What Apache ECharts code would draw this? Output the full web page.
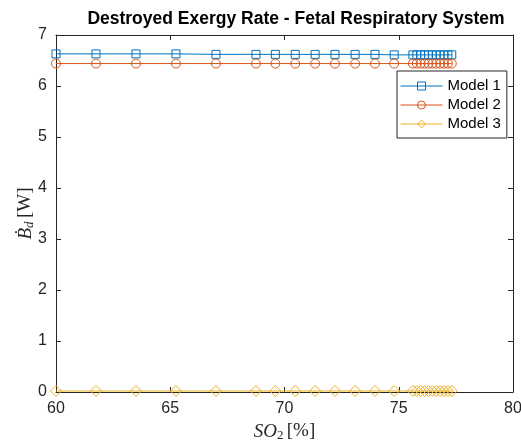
<!DOCTYPE html>
<html>
<head>
<meta charset="utf-8">
<script src="https://cdn.jsdelivr.net/npm/echarts@6/dist/echarts.min.js"></script>
<style>
  html, body { margin: 0; padding: 0; background: #fff; }
  #chart { width: 521px; height: 444px; }
</style>
</head>
<body>
<div id="chart"></div>
<script>
// SO2 saturation (%) sample points
const so2 = [60.0, 61.75, 63.5, 65.25, 67.0, 68.75, 69.6, 70.47, 71.34, 72.21, 73.09, 73.96, 74.8,
  75.62, 75.79, 75.96, 76.13, 76.3, 76.47, 76.64, 76.81, 76.98, 77.15, 77.32]
// destroyed exergy rate (W)
const model1 = [6.63, 6.63, 6.63, 6.63, 6.62, 6.62, 6.62, 6.62, 6.62, 6.62, 6.62, 6.62, 6.61,
  6.61, 6.61, 6.61, 6.61, 6.61, 6.61, 6.61, 6.61, 6.61, 6.61, 6.61]
const model2 = [6.44, 6.44, 6.44, 6.44, 6.44, 6.44, 6.44, 6.44, 6.44, 6.44, 6.44, 6.44, 6.44,
  6.44, 6.44, 6.44, 6.44, 6.44, 6.44, 6.44, 6.44, 6.44, 6.44, 6.44]
const model3 = [0.02, 0.02, 0.02, 0.02, 0.02, 0.02, 0.02, 0.02, 0.02, 0.02, 0.02, 0.02, 0.02,
  0.02, 0.02, 0.02, 0.02, 0.02, 0.02, 0.02, 0.02, 0.02, 0.02, 0.02]
const xTicks = [60, 65, 70, 75, 80]
const yTicks = [0, 1, 2, 3, 4, 5, 6, 7]

const axisColor = '#262626'
const font = 'Liberation Sans, Arial, Helvetica, sans-serif'
const serif = 'Liberation Serif, Times New Roman, serif'

function pairs(ys) {
  return so2.map((x, i) => [x, ys[i]])
}

function makeSeries(name, data, color, symbol, size) {
  return {
    name: name,
    type: 'line',
    data: pairs(data),
    symbol: symbol,
    symbolSize: size,
    showAllSymbol: true,
    lineStyle: { color: color, width: 1 },
    itemStyle: { color: 'transparent', borderColor: color, borderWidth: 1 },
    emphasis: { disabled: true },
    animation: false,
    z: 3
  }
}

const chart = echarts.init(document.getElementById('chart'))
chart.setOption({
  backgroundColor: '#fff',
  animation: false,
  title: {
    text: 'Destroyed Exergy Rate - Fetal Respiratory System',
    left: 291,
    top: 5,
    textAlign: 'center',
    textStyle: { fontFamily: font, fontSize: 17.5, fontWeight: 'bold', color: '#000' }
  },
  grid: { left: 56, right: 8, top: 35, bottom: 52, outerBoundsMode: 'none' },
  legend: {
    orient: 'vertical',
    left: 397,
    top: 71,
    padding: [7, 6, 6, 3],
    itemGap: 3,
    itemWidth: 42,
    itemHeight: 10,
    backgroundColor: '#fff',
    borderColor: axisColor,
    borderWidth: 1,
    borderRadius: 0,
    itemStyle: { borderWidth: 1 },
    lineStyle: { width: 1 },
    textStyle: { fontFamily: font, fontSize: 15, lineHeight: 16, color: '#000' },
    data: ['Model 1', 'Model 2', 'Model 3']
  },
  xAxis: [{
    type: 'value',
    min: xTicks[0],
    max: xTicks[xTicks.length - 1],
    interval: 5,
    name: '{i|SO}{s|2} {n|[%]}',
    nameLocation: 'middle',
    nameGap: 29,
    nameMoveOverlap: false,
    nameTextStyle: {
      rich: {
        i: { fontFamily: serif, fontStyle: 'italic', fontSize: 19, color: '#262626' },
        s: { fontFamily: serif, fontSize: 13, color: '#262626', verticalAlign: 'bottom', padding: [8, 0, 0, 0] },
        n: { fontFamily: serif, fontSize: 19, color: '#262626' }
      }
    },
    axisLine: { show: true, lineStyle: { color: axisColor, width: 1 } },
    axisTick: { show: true, inside: true, length: 5, lineStyle: { color: axisColor } },
    axisLabel: { fontFamily: font, fontSize: 16, color: '#262626', margin: 9 },
    splitLine: { show: false }
  }, {
    type: 'value',
    position: 'top',
    min: xTicks[0],
    max: xTicks[xTicks.length - 1],
    interval: 5,
    axisLine: { show: true, onZero: false, lineStyle: { color: axisColor, width: 1 } },
    axisTick: { show: true, inside: true, length: 5, lineStyle: { color: axisColor } },
    axisLabel: { show: false },
    splitLine: { show: false }
  }],
  yAxis: [{
    type: 'value',
    min: yTicks[0],
    max: yTicks[yTicks.length - 1],
    interval: 1,
    name: '{i|Ḃ}{s|d} {n|[W]}',
    nameLocation: 'middle',
    nameGap: 20,
    nameMoveOverlap: false,
    nameRotate: 90,
    nameTextStyle: {
      rich: {
        i: { fontFamily: serif, fontStyle: 'italic', fontSize: 19, color: '#262626' },
        s: { fontFamily: serif, fontStyle: 'italic', fontSize: 13, color: '#262626', verticalAlign: 'bottom', padding: [8, 0, 0, 0] },
        n: { fontFamily: serif, fontSize: 19, color: '#262626' }
      }
    },
    axisLine: { show: true, onZero: false, lineStyle: { color: axisColor, width: 1 } },
    axisTick: { show: true, inside: true, length: 5, lineStyle: { color: axisColor } },
    axisLabel: { fontFamily: font, fontSize: 16, color: '#262626', margin: 9 },
    splitLine: { show: false }
  }, {
    type: 'value',
    position: 'right',
    min: yTicks[0],
    max: yTicks[yTicks.length - 1],
    interval: 1,
    axisLine: { show: true, onZero: false, lineStyle: { color: axisColor, width: 1 } },
    axisTick: { show: true, inside: true, length: 5, lineStyle: { color: axisColor } },
    axisLabel: { show: false },
    splitLine: { show: false }
  }],
  series: [
    makeSeries('Model 1', model1, '#0072BD', 'rect', 8),
    makeSeries('Model 2', model2, '#D95319', 'circle', 9),
    makeSeries('Model 3', model3, '#EDB120', 'diamond', 11)
  ]
})
</script>
</body>
</html>
